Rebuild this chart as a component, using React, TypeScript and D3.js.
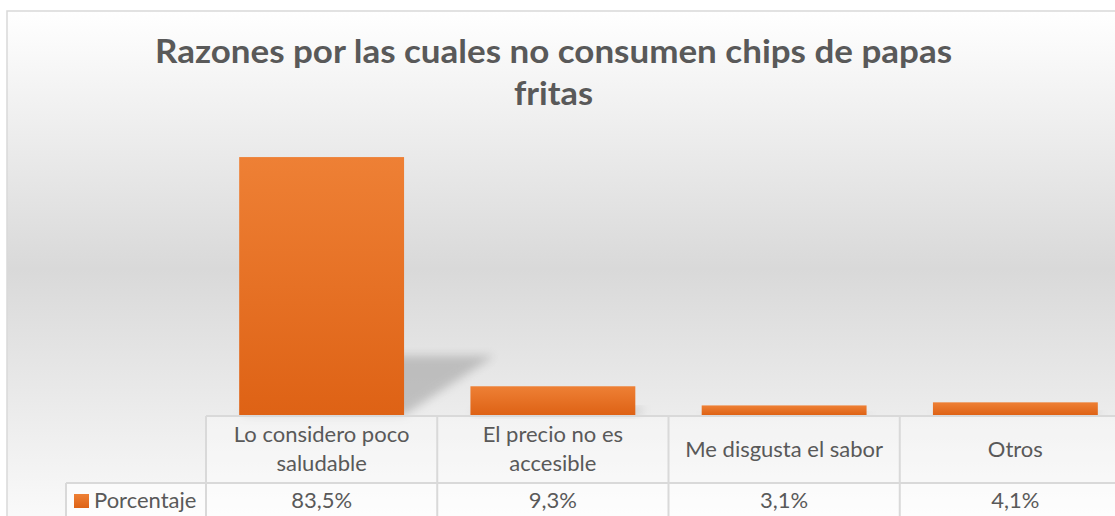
import * as d3 from "d3";

const WIDTH = 1115;
const HEIGHT = 516;

const TITLE_LINES = ["Razones por las cuales no consumen chips de papas", "fritas"];
const TITLE_WIDTHS = [797, 79];
const CATEGORIES = ["Lo considero poco saludable", "El precio no es accesible", "Me disgusta el sabor", "Otros"];
const CATEGORY_LINES = [["Lo considero poco", "saludable"], ["El precio no es", "accesible"], ["Me disgusta el sabor"], ["Otros"]];
const VALUES = [83.5, 9.3, 3.1, 4.1];
const SERIES_NAME = "Porcentaje";

const FONT = "Lato, 'Open Sans', sans-serif";
const TEXT_COLOR = "#595959";
const GRID = "#d9d9d9";
const BODY_SIZE = 22;

const PLOT = { left: 206, right: 1131, bottom: 415, top: 137 };
const TABLE = { headerTop: 416, rowTop: 483, legendLeft: 66 };

export default function App() {
  const x = d3.scaleBand<string>().domain(CATEGORIES).range([PLOT.left, PLOT.right]).paddingInner(0);
  const y = d3.scaleLinear().domain([0, 90]).range([PLOT.bottom, PLOT.top]);
  const barW = x.bandwidth() * 0.713;
  const inset = (x.bandwidth() - barW) / 2;
  const fmt = (v: number) => v.toFixed(1).replace(".", ",") + "%";

  return (
    <svg
      width={WIDTH}
      height={HEIGHT}
      style={{ position: "absolute", left: 0, top: 0 }}
      fontFamily={FONT}
    >
      <defs>
        <linearGradient id="bg" x1="0" y1="11" x2="0" y2="560" gradientUnits="userSpaceOnUse">
          <stop offset="0" stopColor="#ffffff" />
          <stop offset="0.47" stopColor="#d9d9d9" />
          <stop offset="1" stopColor="#ffffff" />
        </linearGradient>
        <linearGradient id="bar" x1="0" y1="0" x2="0" y2="1">
          <stop offset="0" stopColor="#ee8035" />
          <stop offset="1" stopColor="#de6215" />
        </linearGradient>
        <filter id="blur" x="-50%" y="-50%" width="200%" height="200%">
          <feGaussianBlur stdDeviation="5" />
        </filter>
      </defs>

      <rect x={0} y={0} width={WIDTH} height={HEIGHT} fill="#ffffff" />
      <rect x={7} y={11} width={1130} height={560} fill="url(#bg)" stroke={GRID} strokeWidth={1.5} />

      {TITLE_LINES.map((line, i) => (
        <text
          key={line}
          x={553.5}
          y={63 + i * 42}
          textAnchor="middle"
          fontSize={33}
          fontWeight="bold"
          fill={TEXT_COLOR}
          textLength={TITLE_WIDTHS[i]}
          lengthAdjust="spacingAndGlyphs"
        >
          {line}
        </text>
      ))}

      {/* perspective shadows behind bars */}
      {CATEGORIES.map((c, i) => {
        const x0 = (x(c) ?? 0) + inset;
        const h = PLOT.bottom - y(VALUES[i]);
        const dx = h * 0.35;
        const dy = h * 0.23;
        const pts = [
          [x0, PLOT.bottom],
          [x0 + barW, PLOT.bottom],
          [x0 + barW + dx, PLOT.bottom - dy],
          [x0 + dx, PLOT.bottom - dy],
        ];
        return (
          <polygon
            key={`s-${c}`}
            points={pts.map((p) => p.join(",")).join(" ")}
            fill="#8c8c8c"
            opacity={0.45}
            filter="url(#blur)"
          />
        );
      })}

      {CATEGORIES.map((c, i) => (
        <rect
          key={`b-${c}`}
          x={(x(c) ?? 0) + inset}
          y={y(VALUES[i])}
          width={barW}
          height={PLOT.bottom - y(VALUES[i])}
          fill="url(#bar)"
        />
      ))}

      {/* data table */}
      <rect x={PLOT.left} y={TABLE.headerTop} width={WIDTH} height={TABLE.rowTop - TABLE.headerTop} fill="#ffffff" opacity={0.35} />
      <rect x={TABLE.legendLeft} y={TABLE.rowTop} width={WIDTH} height={60} fill="#ffffff" opacity={0.6} />
      <line x1={PLOT.left} x2={WIDTH} y1={TABLE.headerTop} y2={TABLE.headerTop} stroke={GRID} strokeWidth={2} />
      <line x1={TABLE.legendLeft} x2={WIDTH} y1={TABLE.rowTop} y2={TABLE.rowTop} stroke={GRID} strokeWidth={2} />
      <line x1={TABLE.legendLeft} x2={TABLE.legendLeft} y1={TABLE.rowTop} y2={HEIGHT} stroke={GRID} strokeWidth={2} />
      {CATEGORIES.map((c) => (
        <line key={`v-${c}`} x1={x(c)} x2={x(c)} y1={TABLE.headerTop} y2={HEIGHT} stroke={GRID} strokeWidth={2} />
      ))}

      {CATEGORIES.map((c, i) => {
        const lines = CATEGORY_LINES[i];
        const cx = (x(c) ?? 0) + x.bandwidth() / 2;
        const start = lines.length === 1 ? 457 : 442;
        return (
          <text key={`h-${c}`} textAnchor="middle" fontSize={BODY_SIZE} fill={TEXT_COLOR}>
            {lines.map((l, j) => (
              <tspan key={l} x={cx} y={start + j * 28.5}>
                {l}
              </tspan>
            ))}
          </text>
        );
      })}

      <rect x={74} y={494} width={15} height={14} fill="url(#bar)" />
      <text x={94} y={508} fontSize={BODY_SIZE} fill={TEXT_COLOR}>
        {SERIES_NAME}
      </text>

      {CATEGORIES.map((c, i) => (
        <text
          key={`v-${c}`}
          x={(x(c) ?? 0) + x.bandwidth() / 2}
          y={508}
          textAnchor="middle"
          fontSize={BODY_SIZE}
          fill={TEXT_COLOR}
        >
          {fmt(VALUES[i])}
        </text>
      ))}
    </svg>
  );
}
